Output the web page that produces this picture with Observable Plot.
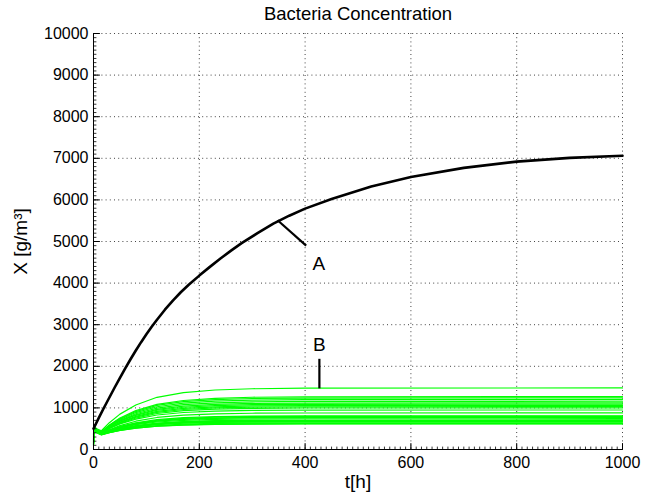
<!DOCTYPE html>
<html>
<head>
<meta charset="utf-8">
<script src="https://cdn.jsdelivr.net/npm/d3@7"></script>
<script src="https://cdn.jsdelivr.net/npm/@observablehq/plot@0.6"></script>
<style>
  html, body { margin: 0; padding: 0; background: #fff; }
  svg { font-family: "Liberation Sans", Arial, Helvetica, sans-serif; }
</style>
</head>
<body>
<div id="chart"></div>
<script>
// ---- Data ----
const title = "Bacteria Concentration";
const xLabel = "t[h]";
const yLabel = "X [g/m³]";
const xTicks = [0, 200, 400, 600, 800, 1000];
const yTicks = [0, 1000, 2000, 3000, 4000, 5000, 6000, 7000, 8000, 9000, 10000];

// Curve A (black)
const tA = [0, 10, 20, 30, 40, 50, 60, 70, 80, 90, 100, 110, 120, 135, 150, 165, 180, 200, 220, 240, 260, 280, 310, 340, 370, 400, 450, 525, 600, 700, 800, 900, 1000];
const xA = [500, 760, 1010, 1250, 1490, 1720, 1950, 2170, 2380, 2580, 2770, 2950, 3120, 3360, 3580, 3780, 3960, 4180, 4390, 4590, 4780, 4960, 5200, 5430, 5620, 5790, 6020, 6320, 6550, 6770, 6920, 7010, 7060];

// Curves B (green): common time grid, one array per run
const tB = [0, 2, 6, 15, 30, 50, 80, 120, 170, 230, 300, 400, 1000];
const runsB = [
  [150, 540, 500, 450, 645, 850, 1070, 1255, 1365, 1430, 1460, 1475, 1480],
  [380, 520, 480, 430, 590, 758, 934, 1085, 1178, 1228, 1256, 1267, 1270],
  [200, 500, 470, 420, 576, 740, 912, 1060, 1150, 1199, 1226, 1237, 1240],
  [450, 530, 480, 420, 568, 724, 888, 1028, 1114, 1161, 1187, 1197, 1200],
  [120, 480, 450, 410, 553, 703, 860, 995, 1078, 1123, 1147, 1157, 1160],
  [300, 510, 470, 410, 545, 687, 836, 964, 1042, 1085, 1108, 1117, 1120],
  [500, 540, 490, 420, 547, 681, 822, 943, 1016, 1057, 1079, 1087, 1090],
  [250, 490, 450, 400, 525, 657, 796, 915, 987, 1027, 1049, 1057, 1060],
  [420, 520, 470, 400, 520, 646, 778, 891, 961, 999, 1019, 1027, 1030],
  [180, 470, 440, 390, 506, 628, 756, 866, 933, 970, 990, 998, 1000],
  [350, 500, 460, 400, 505, 615, 730, 829, 890, 923, 941, 948, 950],
  [220, 480, 440, 380, 475, 575, 680, 770, 825, 855, 872, 878, 880],
  [480, 520, 470, 390, 470, 554, 642, 718, 764, 789, 803, 808, 810],
  [370, 500, 455, 385, 457, 540, 628, 703, 749, 775, 788, 793, 795],
  [230, 480, 440, 380, 455, 533, 616, 688, 733, 757, 770, 775, 777],
  [130, 460, 420, 370, 446, 526, 610, 682, 726, 750, 763, 768, 770],
  [300, 490, 440, 380, 448, 520, 596, 661, 700, 722, 734, 739, 740],
  [400, 500, 450, 370, 435, 503, 574, 635, 673, 693, 704, 709, 710],
  [200, 470, 430, 370, 430, 495, 565, 625, 662, 682, 692, 697, 700],
  [160, 450, 410, 360, 423, 489, 558, 617, 654, 674, 684, 689, 690],
  [280, 460, 420, 360, 420, 483, 550, 607, 642, 661, 671, 675, 677],
  [260, 470, 420, 360, 418, 479, 543, 598, 631, 650, 660, 664, 665],
  [90, 440, 400, 350, 405, 463, 524, 576, 608, 626, 635, 639, 640],
  [110, 450, 410, 355, 405, 458, 515, 563, 593, 609, 617, 620, 622],
  [340, 480, 430, 360, 408, 459, 513, 559, 587, 602, 611, 614, 615]
];

// Annotations
const annotLines = [
  {label: "A", t1: 348, x1: 5510, t2: 402, x2: 4900},
  {label: "B", t1: 427, x1: 1470, t2: 427, x2: 2180}
];
const annotText = [
  {label: "A", t: 426, x: 4450},
  {label: "B", t: 427, x: 2520}
];

// ---- Build tables ----
const curveA = tA.map((t, i) => ({t, x: xA[i]}));
const curvesB = runsB.flatMap((run, k) => run.map((x, i) => ({run: k, t: tB[i], x})));
const xMinor = d3.range(0, 1001, 10);
const yMinor = d3.range(0, 10001, 100);

const tickShape = {draw(ctx, l) { ctx.moveTo(0, 0); ctx.lineTo(0, -l); }};
const FONT = 16;
const LABEL = 19;

const chart = Plot.plot({
  width: 652,
  height: 496,
  marginLeft: 93,
  marginRight: 30,
  marginTop: 33,
  marginBottom: 47,
  style: {fontFamily: '"Liberation Sans", Arial, Helvetica, sans-serif', background: "#fff"},
  x: {domain: [0, 1000]},
  y: {domain: [0, 10000]},
  marks: [
    // dotted grid
    Plot.gridX(xTicks.slice(1), {stroke: "#444", strokeOpacity: 1, strokeWidth: 1, strokeDasharray: "1,3.2"}),
    Plot.gridY(yTicks.slice(1), {stroke: "#444", strokeOpacity: 1, strokeWidth: 1, strokeDasharray: "1,3.2"}),
    // data
    Plot.line(curvesB, {x: "t", y: "x", z: "run", stroke: "#00ff00", strokeWidth: 1.2}),
    Plot.line(curveA, {x: "t", y: "x", stroke: "#000", strokeWidth: 2.6}),
    // annotations
    Plot.link(annotLines, {x1: "t1", y1: "x1", x2: "t2", y2: "x2", stroke: "#000", strokeWidth: 2.2}),
    Plot.text(annotText, {x: "t", y: "x", text: "label", fontSize: LABEL, fill: "#000"}),
    // axes lines
    Plot.ruleX([0], {stroke: "#000", strokeWidth: 1}),
    Plot.ruleY([0], {stroke: "#000", strokeWidth: 1}),
    // inward ticks
    Plot.vector(xMinor, {x: d => d, y: 0, length: 2.5, rotate: 0, anchor: "start", shape: tickShape, stroke: "#000", strokeWidth: 0.8}),
    Plot.vector(yMinor, {x: 0, y: d => d, length: 2.5, rotate: 90, anchor: "start", shape: tickShape, stroke: "#000", strokeWidth: 0.8}),
    Plot.vector(xTicks, {x: d => d, y: 0, length: 6, rotate: 0, anchor: "start", shape: tickShape, stroke: "#000", strokeWidth: 1}),
    Plot.vector(yTicks, {x: 0, y: d => d, length: 6, rotate: 90, anchor: "start", shape: tickShape, stroke: "#000", strokeWidth: 1}),
    // tick labels
    Plot.axisX({ticks: xTicks, tickSize: 0, tickPadding: 7, fontSize: FONT, label: null, tickFormat: d => String(d), fill: "#000"}),
    Plot.axisY({ticks: yTicks, tickSize: 0, tickPadding: 5, fontSize: FONT, label: null, tickFormat: d => String(d), fill: "#000"}),
    // titles
    Plot.text([title], {frameAnchor: "top", lineAnchor: "middle", dy: -19.5, fontSize: 18.5, fill: "#000"}),
    Plot.text([xLabel], {frameAnchor: "bottom", lineAnchor: "middle", dy: 32, fontSize: LABEL, fill: "#000"}),
    Plot.text([yLabel], {frameAnchor: "left", textAnchor: "middle", lineAnchor: "middle", dx: -73, rotate: -90, fontSize: LABEL, fill: "#000"})
  ]
});
document.getElementById("chart").appendChild(chart);
</script>
</body>
</html>
